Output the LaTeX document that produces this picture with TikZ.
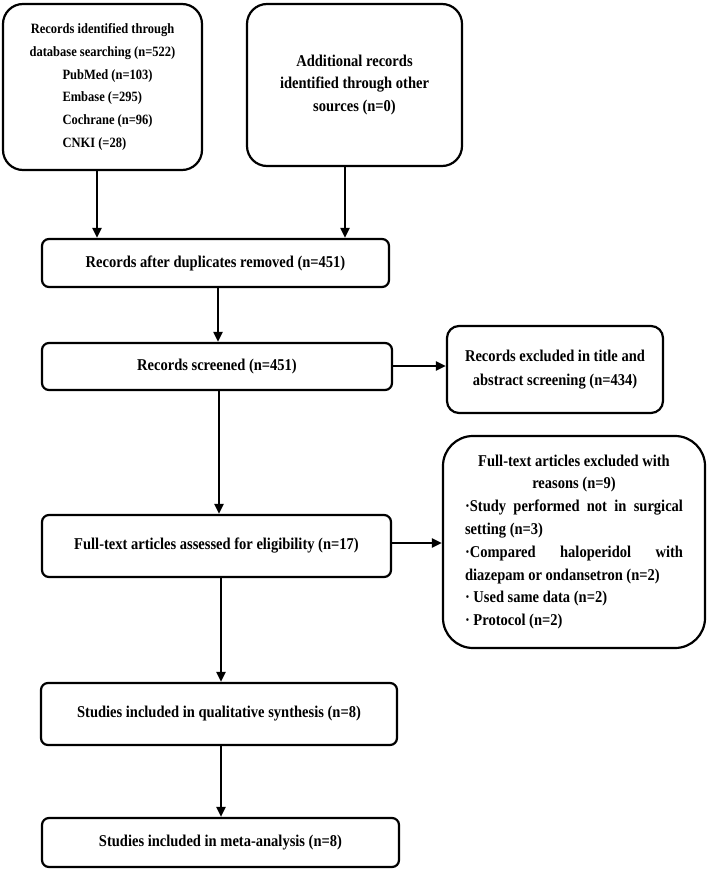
\documentclass[tikz,border=0pt]{standalone}
\usepackage{fontspec}
\newfontfamily\bx[FakeStretch=0.88]{Liberation Serif}
\usetikzlibrary{arrows.meta}
\begin{document}
\begin{tikzpicture}[x=1pt,y=-1pt,
  box/.style={draw, line width=2.2pt, inner sep=0pt, align=center},
  mainfont/.style={font=\bx\bfseries\fontsize{16.5}{22.8}\selectfont},
  arr/.style={line width=2pt, -{Triangle[length=10pt,width=9pt]}}]
\useasboundingbox (0,0) rectangle (708,874);
\node[box, rounded corners=20pt, minimum width=199pt, minimum height=166pt,
  font=\bx\bfseries\fontsize{14.2}{22.8}\selectfont] (b1) at (102.5,87)
  {Records identified through\\database searching (n=522)\\
   \makebox[80pt][l]{PubMed (n=103)}\\\makebox[80pt][l]{Embase (=295)}\\
   \makebox[80pt][l]{Cochrane (n=96)}\\\makebox[80pt][l]{CNKI (=28)}};
\node[box, mainfont, rounded corners=20pt, minimum width=215pt, minimum height=162pt] (b2) at (354.5,85)
  {Additional records\\identified through other\\sources (n=0)};
\node[box, mainfont, rounded corners=7pt, minimum width=347pt, minimum height=48pt] (b3) at (215.5,263)
  {Records after duplicates removed (n=451)};
\node[box, mainfont, rounded corners=7pt, minimum width=350pt, minimum height=47pt] (b4) at (217,366.5)
  {Records screened (n=451)};
\node[box, mainfont, rounded corners=12pt, minimum width=216pt, minimum height=87pt,
  font=\bx\bfseries\fontsize{16.5}{24}\selectfont] (b5) at (555,369.5)
  {Records excluded in title and\\abstract screening (n=434)};
\node[box, mainfont, rounded corners=30pt, minimum width=262pt, minimum height=212pt] (b6) at (574,542)
  {\makebox[218pt][c]{Full-text articles excluded with}\\
   \makebox[218pt][c]{reasons (n=9)}\\
   \makebox[218pt][s]{·Study performed not in surgical}\\
   \makebox[218pt][l]{setting (n=3)}\\
   \makebox[218pt][s]{·Compared haloperidol with}\\
   \makebox[218pt][l]{diazepam or ondansetron (n=2)}\\
   \makebox[218pt][l]{· Used same data (n=2)}\\
   \makebox[218pt][l]{· Protocol (n=2)}};
\node[box, mainfont, rounded corners=7pt, minimum width=349pt, minimum height=62pt] (b7) at (216.5,546)
  {Full-text articles assessed for eligibility (n=17)};
\node[box, mainfont, rounded corners=7pt, minimum width=356pt, minimum height=62pt] (b8) at (219,714)
  {Studies included in qualitative synthesis (n=8)};
\node[box, mainfont, rounded corners=7pt, minimum width=357pt, minimum height=49pt] (b9) at (220.5,842.5)
  {Studies included in meta-analysis (n=8)};
\coordinate (x1) at (97,0);
\coordinate (x2) at (345,0);
\coordinate (x3) at (218,0);
\coordinate (x4) at (219,0);
\coordinate (x5) at (221,0);
\coordinate (y4) at (0,366);
\coordinate (y7) at (0,543);
\draw[arr] (b1.south -| x1) -- (b3.north -| x1);
\draw[arr] (b2.south -| x2) -- (b3.north -| x2);
\draw[arr] (b3.south -| x3) -- (b4.north -| x3);
\draw[arr] (b4.south -| x4) -- (b7.north -| x4);
\draw[arr] (b7.south -| x5) -- (b8.north -| x5);
\draw[arr] (b8.south -| x5) -- (b9.north -| x5);
\draw[arr] (b4.east |- y4) -- (b5.west |- y4);
\draw[arr] (b7.east |- y7) -- (b6.west |- y7);
\end{tikzpicture}
\end{document}
